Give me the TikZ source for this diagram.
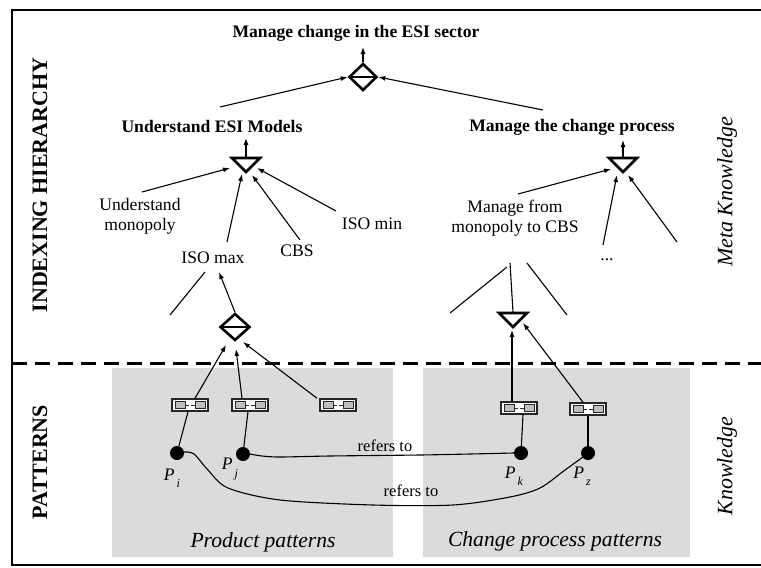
\documentclass[tikz,border=0pt]{standalone}
\usepackage{fontspec}
\setmainfont{Liberation Serif}
\usetikzlibrary{arrows.meta,shapes.geometric,calc}

% down-pointing AND-style triangle gate centred on a named coordinate
\newcommand\downgate[3]{%
  \coordinate (#1) at (#2,#3);
  \draw[gate] ($(#1)+(-14,-7)$) -- ($(#1)+(14,-7)$) -- ($(#1)+(0,7)$) -- cycle;}

\begin{document}
\begin{tikzpicture}[x=1pt,y=-1pt,
  conn/.style={line width=1.1pt},
  arr/.style={conn,-{Latex[length=7pt,width=5pt]}},
  gate/.style={line width=2.6pt, line join=miter},
  sel/.style={diamond, draw, gate, minimum width=28pt, minimum height=27pt, inner sep=0pt,
    path picture={\draw[line width=1.4pt] (path picture bounding box.west) -- (path picture bounding box.east);}},
  lbl/.style={font=\fontsize{17.6}{20}\selectfont, align=center, inner sep=1pt},
  goal/.style={font=\fontsize{17.6}{20}\selectfont\bfseries, inner sep=1pt},
  side/.style={font=\fontsize{22}{24}\selectfont\bfseries, rotate=90, inner sep=0pt},
  sideit/.style={font=\fontsize{22}{24}\selectfont\itshape, rotate=90, inner sep=0pt},
  area/.style={font=\fontsize{21.6}{24}\selectfont\itshape, inner sep=0pt},
  pname/.style={font=\fontsize{17.6}{20}\selectfont\itshape, inner sep=0pt},
  ref/.style={font=\fontsize{16.5}{18}\selectfont, inner sep=1pt},
  dot/.style={circle, fill=black, minimum size=14pt, inner sep=0pt},
  patt/.style={rectangle, draw=black!85, line width=1.5pt, fill=white,
    minimum width=36pt, minimum height=12pt, inner sep=0pt,
    path picture={
      \draw[line width=0.7pt, fill=black!25]
        ([shift={(-15pt,-3.2pt)}]path picture bounding box.center) rectangle
        ([shift={(-5pt,3.2pt)}]path picture bounding box.center);
      \draw[line width=0.7pt, fill=black!25]
        ([shift={(5pt,-3.2pt)}]path picture bounding box.center) rectangle
        ([shift={(15pt,3.2pt)}]path picture bounding box.center);
      \draw[line width=0.7pt]
        ([shift={(-5pt,0pt)}]path picture bounding box.center) --
        ([shift={(5pt,0pt)}]path picture bounding box.center);
      \fill (path picture bounding box.center) circle (1.3pt);}}
  ]
\useasboundingbox (0,0) rectangle (761,568);

% pattern areas
\fill[black!14] (112,368) rectangle (393,557);
\fill[black!14] (423,368) rectangle (690,557);

% frame and level separator
\draw[line width=2pt] (761,10) -- (12,10) -- (12,565) -- (761,565);
\draw[line width=3pt, dash pattern=on 15pt off 8pt] (12,363) -- (761,363);

% level labels
\node[side] (lIH) at (40,185) {INDEXING HIERARCHY};
\node[side] (lPA) at (40,462) {PATTERNS};
\node[sideit] (lMK) at (727,192) {Meta Knowledge};
\node[sideit] (lKN) at (727,466) {Knowledge};

% indexing hierarchy: goals and intentions
\node[goal] (title) at (356,33) {Manage change in the ESI sector};
\node[sel] (D0) at (363,77) {};
\node[goal] (U1) at (212,126) {Understand ESI Models};
\node[goal] (M1) at (572,127) {Manage the change process};
\downgate{T1}{246}{165}
\downgate{T2}{623}{165}
\node[lbl] (mono) at (140,216) {Understand\\monopoly};
\node[lbl] (cbs) at (297,251) {CBS};
\node[lbl] (isomin) at (372,224) {ISO min};
\node[lbl] (isomax) at (213,258) {ISO max};
\node[lbl] (mfm) at (515,218) {Manage from\\monopoly to CBS};
\node[lbl] (etc) at (607,260) {...};
\node[sel, minimum width=30pt] (D1) at (235,327) {};
\downgate{T3}{513}{320}

% free ends of the connectors
\coordinate (e0) at (363,47);
\coordinate (eU) at (220,107);
\coordinate (eM) at (543,110);
\coordinate (eT1) at (246,138);
\coordinate (eT2) at (623,140);
\coordinate (sMono) at (142,192);
\coordinate (sMax) at (227,242);
\coordinate (sCbs) at (300,240);
\coordinate (sMin) at (336,211);
\coordinate (sMfm) at (518,194);
\coordinate (sEtcA) at (603,245);
\coordinate (sEtcB) at (677,242);
\coordinate (eMax) at (219,272);
\coordinate (aMaxA) at (205,272);
\coordinate (aMaxB) at (170,315);
\coordinate (bL1) at (450,313);
\coordinate (bL2) at (507,267);
\coordinate (bM) at (510,263);
\coordinate (bR1) at (527,263);
\coordinate (bR2) at (567,315);

\draw[arr] (D0.north) -- (e0);
\draw[arr] (eU) -- (D0.west);
\draw[arr] (eM) -- (D0.east);
\draw[arr] ($(T1)+(0,-8)$) -- (eT1);
\draw[arr] ($(T2)+(0,-8)$) -- (eT2);

\draw[arr] (sMono) -- ($(T1)+(-16,3)$);
\draw[arr] (sMax) -- ($(T1)+(-4,9)$);
\draw[arr] (sCbs) -- ($(T1)+(6,10)$);
\draw[arr] (sMin) -- ($(T1)+(11,3)$);

\draw[arr] (sMfm) -- ($(T2)+(-12,4)$);
\draw[arr] (sEtcA) -- ($(T2)+(-6,10)$);
\draw[arr] (sEtcB) -- ($(T2)+(5,10)$);

\draw[arr] (D1.north) -- (eMax);
\draw[conn] (aMaxA) -- (aMaxB);
\draw[conn] (bL1) -- (bL2);
\draw[conn] ($(T3)+(0,-8)$) -- (bM);
\draw[conn] (bR1) -- (bR2);

% patterns
\node[patt] (P1) at (190,405) {};
\node[patt] (P2) at (250,405) {};
\node[patt] (P3) at (338,405) {};
\node[patt] (P4) at (519,408) {};
\node[patt] (P5) at (588,409) {};

\node[dot] (Pi) at (177,453) {};
\node[dot] (Pj) at (243,454) {};
\node[dot] (Pk) at (521,453) {};
\node[dot] (Pz) at (588,453) {};

\node[pname] (li) at (172,478) {P\raisebox{-0.4em}{\fontsize{12}{12}\selectfont\,i}};
\node[pname] (lj) at (230,469) {P\raisebox{-0.4em}{\fontsize{12}{12}\selectfont\,j}};
\node[pname] (lk) at (514,476) {P\raisebox{-0.4em}{\fontsize{12}{12}\selectfont\,k}};
\node[pname] (lz) at (582,476) {P\raisebox{-0.4em}{\fontsize{12}{12}\selectfont\,z}};

\draw[arr] ([xshift=5pt]P1.north) -- ($(D1)+(-9,18)$);
\draw[arr] ([xshift=-8pt]P2.north) -- ($(D1)+(1,22)$);
\draw[arr] ([xshift=-21pt]P3.north) -- ($(D1)+(8,15)$);
\draw[arr] ([xshift=-7pt]P4.north) -- ($(T3)+(-1,10)$);
\draw[arr] ([xshift=-5pt]P5.north) -- ($(T3)+(10,3)$);

\draw[conn] ([xshift=-2pt]P1.south) -- (Pi);
\draw[conn] ([xshift=-2pt]P2.south) -- (Pj);
\draw[conn] ([xshift=4pt]P4.south) -- (Pk);
\draw[conn] (P5.south) -- (Pz);

% references between patterns
\draw[conn] (Pj.east) plot[smooth, tension=0.5] coordinates
  {(250,454) (262,456) (280,457) (330,456) (420,455) (470,454) (Pk.west)};
\draw[conn] (Pi.east) plot[smooth, tension=0.5] coordinates
  {(184,452) (194,454) (208,470) (228,488) (280,500) (373,505) (453,505) (510,497) (540,488) (565,470) (583,457)};
\node[ref] (r1) at (385,446) {refers to};
\node[ref] (r2) at (411,491) {refers to};

\node[area] (pp) at (263,542) {Product patterns};
\node[area] (cp) at (555,541) {Change process patterns};
\end{tikzpicture}
\end{document}
